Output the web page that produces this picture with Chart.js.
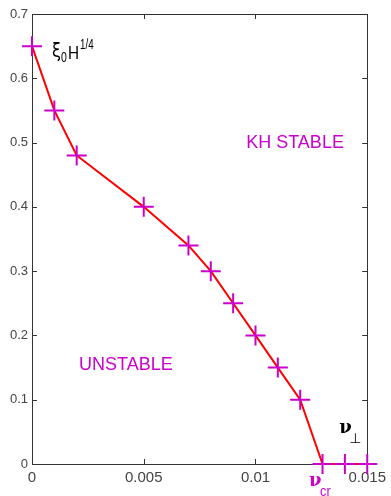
<!DOCTYPE html>
<html lang="en">
<head>
  <meta charset="UTF-8" />
  <title>KH stability boundary</title>
  <script src="https://cdn.jsdelivr.net/npm/chart.js@4.4.1/dist/chart.umd.min.js"></script>
  <style>
    html,body{margin:0;padding:0;background:#fff}
    #wrap{width:391px;height:496px}
  </style>
</head>
<body>
<div id="wrap"><canvas id="chart" width="391" height="496"></canvas></div>
<script>
  // boundary points
  const nuPerp = [0, 0.001, 0.002, 0.005, 0.007, 0.008, 0.009, 0.010, 0.011, 0.012, 0.013, 0.014, 0.015];
  const xiH    = [0.65, 0.55, 0.48, 0.40, 0.34, 0.30, 0.25, 0.20, 0.15, 0.10, 0, 0, 0];
  const xTicks = [0, 0.005, 0.01, 0.015];
  const xTickLabels = ['0', '0.005', '0.01', '0.015'];
  const yTicks = [0, 0.1, 0.2, 0.3, 0.4, 0.5, 0.6, 0.7];
  const yTickLabels = ['0', '0.1', '0.2', '0.3', '0.4', '0.5', '0.6', '0.7'];

  const FONT = '"Liberation Sans", Arial, sans-serif';
  const MAG = '#cc00cc';

  const points = nuPerp.map((x, i) => ({x: x, y: xiH[i]}));

  function tickLabel(vals, labels){
    return v => { const i = vals.findIndex(t => Math.abs(t - v) < 1e-9); return i >= 0 ? labels[i] : ''; };
  }

  // narrow text: squeeze horizontally like the original figure's font
  function narrow(ctx, txt, x, y, font, sx){
    ctx.save();
    ctx.translate(x, y);
    ctx.scale(sx, 1);
    ctx.font = font;
    ctx.fillText(txt, 0, 0);
    ctx.restore();
  }

  // frame, inward ticks and text labels (MATLAB look)
  const framePlugin = {
    id: 'frame',
    beforeDatasetsDraw(chart){
      const {ctx, chartArea: a, scales: {x, y}} = chart;
      ctx.save();
      ctx.strokeStyle = '#333';
      ctx.lineWidth = 1;
      ctx.strokeRect(Math.round(a.left) + 0.5, Math.round(a.top) + 0.5, Math.round(a.right - a.left), Math.round(a.bottom - a.top));
      ctx.beginPath();
      xTicks.forEach(v => {
        const px = Math.round(x.getPixelForValue(v)) + 0.5;
        ctx.moveTo(px, a.bottom); ctx.lineTo(px, a.bottom - 5);
        ctx.moveTo(px, a.top); ctx.lineTo(px, a.top + 5);
      });
      yTicks.forEach(v => {
        const py = Math.round(y.getPixelForValue(v)) + 0.5;
        ctx.moveTo(a.left, py); ctx.lineTo(a.left + 5, py);
        ctx.moveTo(a.right, py); ctx.lineTo(a.right - 5, py);
      });
      ctx.stroke();
      ctx.restore();
    },
    afterDraw(chart){
      const {ctx, scales: {x, y}} = chart;
      ctx.save();
      ctx.textBaseline = 'alphabetic';
      ctx.textAlign = 'left';

      // xi_0 H^{1/4}
      ctx.fillStyle = '#000';
      let px = x.getPixelForValue(0.0009), py = y.getPixelForValue(0.65) + 11;
      narrow(ctx, 'ξ', px, py, '19px "DejaVu Sans", sans-serif', 0.85);
      narrow(ctx, '0', px + 9, py + 5, '14px ' + FONT, 0.75);
      narrow(ctx, 'H', px + 16, py + 2, '18px ' + FONT, 0.85);
      narrow(ctx, '1/4', px + 28, py - 8, '14px ' + FONT, 0.7);

      // region labels
      ctx.fillStyle = MAG;
      ctx.font = '18px ' + FONT;
      ctx.textAlign = 'center';
      ctx.textBaseline = 'middle';
      ctx.fillText('KH STABLE', x.getPixelForValue(0.01177), y.getPixelForValue(0.50));
      ctx.fillText('UNSTABLE', x.getPixelForValue(0.0042), y.getPixelForValue(0.154));

      // nu_perp
      ctx.textAlign = 'left';
      ctx.textBaseline = 'alphabetic';
      ctx.fillStyle = '#000';
      px = x.getPixelForValue(0.01375); py = y.getPixelForValue(0.048);
      ctx.font = 'bold 18px "DejaVu Serif", serif';
      ctx.fillText('ν', px, py);
      ctx.font = '14px "DejaVu Sans", sans-serif';
      ctx.fillText('⊥', px + 10, py + 10);

      // nu_cr under the axis
      ctx.fillStyle = MAG;
      px = x.getPixelForValue(0.0124); py = y.getPixelForValue(0) + 22;
      ctx.font = 'bold 18px "DejaVu Serif", serif';
      ctx.fillText('ν', px, py);
      narrow(ctx, 'cr', px + 11, py + 10, '15px ' + FONT, 0.85);
      ctx.restore();
    }
  };

  new Chart(document.getElementById('chart'), {
    type: 'scatter',
    data: {
      datasets: [{
        data: points,
        showLine: true,
        borderColor: '#ff0000',
        borderWidth: 2,
        pointStyle: 'cross',
        pointRadius: 10,
        pointHoverRadius: 10,
        pointBorderColor: MAG,
        pointBackgroundColor: MAG,
        pointBorderWidth: 2,
        clip: false
      }]
    },
    options: {
      responsive: false,
      animation: false,
      events: [],
      layout: {padding: {top: 14, right: 19, left: 0, bottom: 0}},
      plugins: {legend: {display: false}, tooltip: {enabled: false}},
      scales: {
        x: {
          type: 'linear', min: 0, max: 0.015,
          afterBuildTicks: s => { s.ticks = xTicks.map(v => ({value: v})); },
          afterFit: s => { s.height = 32; },
          grid: {display: false, drawTicks: false},
          border: {display: false},
          ticks: {callback: tickLabel(xTicks, xTickLabels), padding: 5, color: '#444', maxRotation: 0,
                  font: {family: FONT, size: 15}}
        },
        y: {
          type: 'linear', min: 0, max: 0.7,
          afterBuildTicks: s => { s.ticks = yTicks.map(v => ({value: v})); },
          afterFit: s => { s.width = 32; },
          grid: {display: false, drawTicks: false},
          border: {display: false},
          ticks: {callback: tickLabel(yTicks, yTickLabels), padding: 4, color: '#444',
                  font: {family: FONT, size: 13}}
        }
      }
    },
    plugins: [framePlugin]
  });
</script>
</body>
</html>
